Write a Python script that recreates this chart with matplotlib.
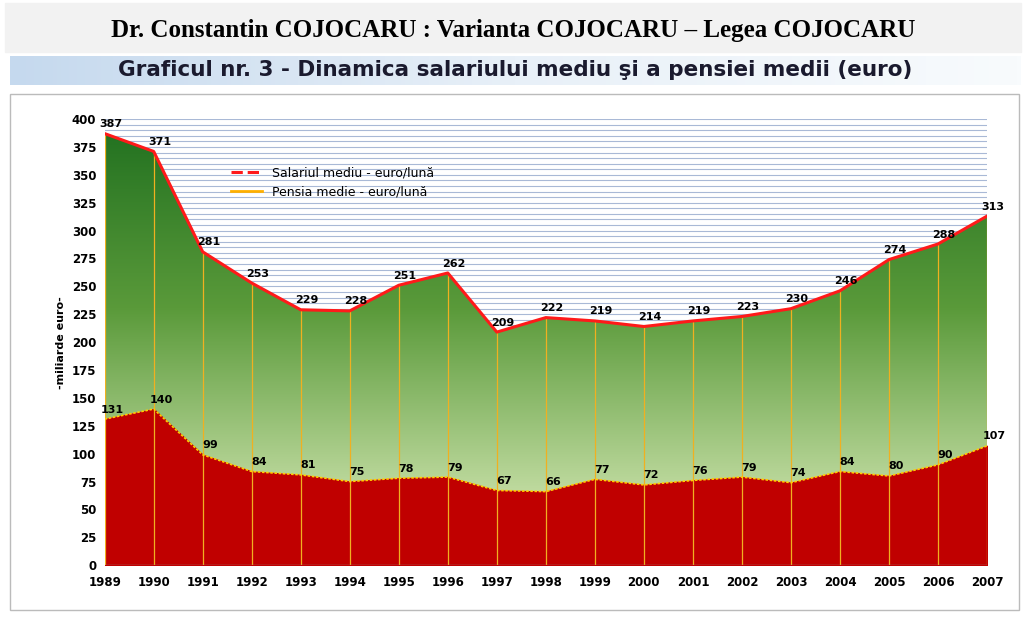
import matplotlib
matplotlib.use("Agg")
import matplotlib.pyplot as plt
import numpy as np
from matplotlib.colors import LinearSegmentedColormap
from matplotlib.patches import Rectangle

years = [1989,1990,1991,1992,1993,1994,1995,1996,1997,1998,1999,2000,2001,2002,2003,2004,2005,2006,2007]
salariu = [387,371,281,253,229,228,251,262,209,222,219,214,219,223,230,246,274,288,313]
pensie = [131,140,99,84,81,75,78,79,67,66,77,72,76,79,74,84,80,90,107]

fig = plt.figure(figsize=(10.26,6.17), dpi=100)
fig.patch.set_facecolor("white")
fig.add_artist(Rectangle((0.005,0.915),0.99,0.08,transform=fig.transFigure,color="#f2f2f2",zorder=0))
fig.text(0.5,0.951,"Dr. Constantin COJOCARU : Varianta COJOCARU – Legea COJOCARU",ha="center",va="center",
         fontsize=18,fontweight="bold",family="Liberation Serif")
grad = np.linspace(0,1,256).reshape(1,-1)
bax = fig.add_axes([0.01,0.862,0.985,0.048]); bax.axis("off")
bax.imshow(grad,aspect="auto",cmap=LinearSegmentedColormap.from_list("b",["#c5d9ee","#e8f0f8","#f8fbfd"]),extent=(0,1,0,1))
bax.set_xlim(0,1); bax.set_ylim(0,1)
bax.text(0.5,0.5,"Graficul nr. 3 - Dinamica salariului mediu şi a pensiei medii (euro)",ha="center",va="center",
         fontsize=15.5,fontweight="bold",color="#1a1a2e",family="DejaVu Sans")
fig.add_artist(Rectangle((0.01,0.012),0.983,0.835,transform=fig.transFigure,fill=False,ec="#bbbbbb",lw=1))

ax = fig.add_axes([0.102,0.084,0.860,0.723])
ax.set_xlim(1989,2007); ax.set_ylim(0,400)
for y in range(5,401,5):
    ax.axhline(y,color="#a9b9d6",lw=0.8,zorder=0)
ax.vlines(years,0,salariu,color="#f0b020",lw=0.9,zorder=3)
fb = ax.fill_between(years,pensie,salariu,color="none",zorder=1)
cm = LinearSegmentedColormap.from_list("g",["#c2dca2","#5a9a3a","#1f6f1f"])
img = ax.imshow(np.linspace(0,1,256).reshape(-1,1),aspect="auto",cmap=cm,origin="lower",
                extent=(1989,2007,60,400),zorder=1)
img.set_clip_path(fb.get_paths()[0],transform=ax.transData)
ax.fill_between(years,0,pensie,color="#c00000",zorder=2)
ax.plot(years,salariu,color="#ff1a1a",lw=2.2,zorder=4,label="Salariul mediu - euro/lună")
ax.plot(years,pensie,color="#ffd000",lw=1.2,ls=(0,(1.5,1)),zorder=4)
ax.plot([],[],color="#ffb000",lw=2,label="Pensia medie - euro/lună")
for x,s,p in zip(years,salariu,pensie):
    ax.text(x+0.12,s+4,str(s),fontsize=8,fontweight="bold",va="bottom",ha="center",zorder=5)
    ax.text(x+0.15,p+4,str(p),fontsize=8,fontweight="bold",va="bottom",ha="center",zorder=5)
ax.set_xticks(years); ax.set_yticks(range(0,401,25))
ax.tick_params(labelsize=8.5,length=0)
ax.tick_params(axis="x",pad=8)
ax.tick_params(axis="y",pad=6)
for l in ax.get_xticklabels()+ax.get_yticklabels(): l.set_fontweight("bold")
ax.set_ylabel("-miliarde euro-",fontsize=8,fontweight="bold")
for s in ax.spines.values(): s.set_visible(False)
ax.axhline(0,color="#888888",lw=1,zorder=4)
leg = ax.legend(loc="upper left",bbox_to_anchor=(0.13,0.92),frameon=False,fontsize=9,handlelength=2.5)
leg.get_lines()[0].set_linestyle("--")
fig.savefig("out.png",dpi=100)
